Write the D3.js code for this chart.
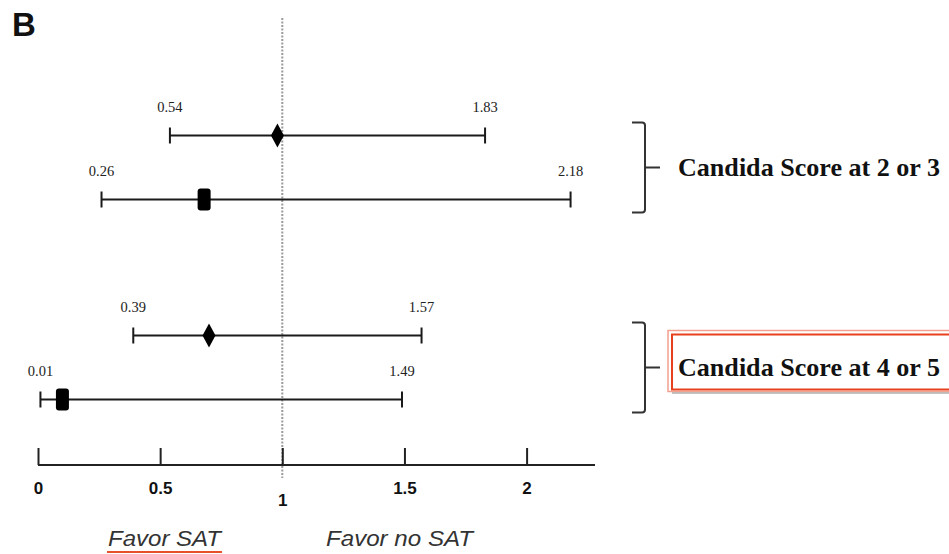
<!DOCTYPE html>
<html>
<head>
<meta charset="utf-8">
<script src="https://cdn.jsdelivr.net/npm/d3@7/dist/d3.min.js"></script>
<style>
  html, body { margin: 0; padding: 0; background: #fff; }
  svg { display: block; }
</style>
</head>
<body>
<svg id="chart" width="949" height="554"></svg>
<script>
// ---- data ----
const groups = ["Candida Score at 2 or 3", "Candida Score at 4 or 5"];
const rowGroup = [0, 0, 1, 1];
const rowInGroup = [0, 1, 0, 1];
const estimates = [0.98, 0.68, 0.70, 0.10];
const lower = [0.54, 0.26, 0.39, 0.01];
const upper = [1.83, 2.18, 1.57, 1.49];
const markerType = ["diamond", "square", "diamond", "square"];
const tickValues = [0, 0.5, 1, 1.5, 2];
const favorLabels = ["Favor SAT", "Favor no SAT"];
const panelLabel = "B";

// ---- layout ----
const svg = d3.select("#chart");
const W = 949, H = 554;
const axisY = 465;

const x = d3.scaleLinear().domain([0, 2.28]).range([38, 595]);
const gy = d3.scalePoint().domain(d3.range(groups.length)).range([167.5, 367.5]);
const rowOff = d3.scalePoint().domain([0, 1]).range([-32, 32]);
const rowY = i => gy(rowGroup[i]) + rowOff(rowInGroup[i]);

// panel label
svg.append("text")
  .attr("x", 12).attr("y", 36)
  .attr("font-family", "Liberation Sans, Arial, sans-serif")
  .attr("font-weight", "bold").attr("font-size", 33)
  .attr("fill", "#111")
  .text(panelLabel);

// reference line at 1
svg.append("line")
  .attr("x1", x(1)).attr("x2", x(1))
  .attr("y1", 18).attr("y2", 478)
  .attr("stroke", "#9a9a9a").attr("stroke-width", 2)
  .attr("stroke-dasharray", "2,1.5");

// axis
const axis = d3.axisBottom(x)
  .tickValues(tickValues)
  .tickFormat(d3.format("~g"))
  .tickSizeInner(-17).tickSizeOuter(0);
const ag = svg.append("g").attr("transform", `translate(0,${axisY})`).call(axis);
ag.select(".domain").remove();
ag.selectAll(".tick line").attr("stroke", "#222").attr("stroke-width", 2);
ag.selectAll(".tick text")
  .attr("dy", null)
  .attr("y", d => d === 1 ? 41 : 29)
  .attr("font-family", "Liberation Sans, Arial, sans-serif")
  .attr("font-weight", "bold").attr("font-size", 17)
  .attr("fill", "#111");
ag.append("line")
  .attr("x1", x.range()[0]).attr("x2", x.range()[1])
  .attr("y1", 0).attr("y2", 0)
  .attr("stroke", "#222").attr("stroke-width", 2);

// error bars
const fmt = d3.format(".2f");
const rows = d3.range(estimates.length);
const rg = svg.selectAll("g.row").data(rows).join("g").attr("class", "row");
rg.append("line")
  .attr("x1", i => x(lower[i])).attr("x2", i => x(upper[i]))
  .attr("y1", rowY).attr("y2", rowY)
  .attr("stroke", "#1a1a1a").attr("stroke-width", 2);
[lower, upper].forEach(arr => {
  rg.append("line")
    .attr("x1", i => x(arr[i])).attr("x2", i => x(arr[i]))
    .attr("y1", i => rowY(i) - 8).attr("y2", i => rowY(i) + 8)
    .attr("stroke", "#1a1a1a").attr("stroke-width", 2);
  rg.append("text")
    .attr("x", i => x(arr[i])).attr("y", i => rowY(i) - 24)
    .attr("text-anchor", "middle")
    .attr("font-family", "Liberation Serif, Times New Roman, serif")
    .attr("font-size", 14.5)
    .attr("fill", "#222")
    .text(i => fmt(arr[i]));
});
rg.filter(i => markerType[i] === "diamond").append("path")
  .attr("d", i => {
    const cx = x(estimates[i]), cy = rowY(i);
    return `M${cx},${cy - 12}L${cx + 6.5},${cy}L${cx},${cy + 12}L${cx - 6.5},${cy}Z`;
  })
  .attr("fill", "#000");
rg.filter(i => markerType[i] === "square").append("rect")
  .attr("x", i => x(estimates[i]) - 6.5).attr("y", i => rowY(i) - 11)
  .attr("width", 13).attr("height", 22).attr("rx", 3)
  .attr("fill", "#000");

// brackets + group labels
const bx = 645;
groups.forEach((g, gi) => {
  const cy = gy(gi);
  const top = cy - 45, bot = cy + 45;
  svg.append("path")
    .attr("d", `M${bx - 13},${top}L${bx - 3},${top}Q${bx},${top} ${bx},${top + 3}` +
               `L${bx},${bot - 3}Q${bx},${bot} ${bx - 3},${bot}L${bx - 13},${bot}` +
               `M${bx},${cy}L${bx + 15},${cy}`)
    .attr("fill", "none").attr("stroke", "#333").attr("stroke-width", 2);
  if (gi === 1) {
    svg.append("rect")
      .attr("x", 668).attr("y", cy - 37).attr("width", 300).attr("height", 61)
      .attr("fill", "none").attr("stroke", "#f4a090").attr("stroke-width", 1.5);
    svg.append("rect")
      .attr("x", 672).attr("y", cy - 33).attr("width", 300).attr("height", 55)
      .attr("fill", "none").attr("stroke", "#e8401c").attr("stroke-width", 2);
    svg.append("line")
      .attr("x1", 672).attr("x2", W).attr("y1", cy + 25.5).attr("y2", cy + 25.5)
      .attr("stroke", "#888").attr("stroke-width", 1);
  }
  svg.append("text")
    .attr("x", 678).attr("y", cy + 8)
    .attr("font-family", "Liberation Serif, Times New Roman, serif")
    .attr("font-weight", "bold").attr("font-size", 26)
    .attr("textLength", 262).attr("lengthAdjust", "spacingAndGlyphs")
    .attr("fill", "#111")
    .text(g);
});

// favor labels
const favorX = [108, 326];
favorLabels.forEach((t, i) => {
  svg.append("text")
    .attr("x", favorX[i]).attr("y", 546)
    .attr("font-family", "Liberation Sans, Arial, sans-serif")
    .attr("font-style", "italic").attr("font-size", 22)
    .attr("textLength", i === 0 ? 113 : 147).attr("lengthAdjust", "spacingAndGlyphs")
    .attr("fill", "#333")
    .text(t);
});
svg.append("line")
  .attr("x1", 107).attr("x2", 222).attr("y1", 552).attr("y2", 552)
  .attr("stroke", "#e8502a").attr("stroke-width", 2);
</script>
</body>
</html>
